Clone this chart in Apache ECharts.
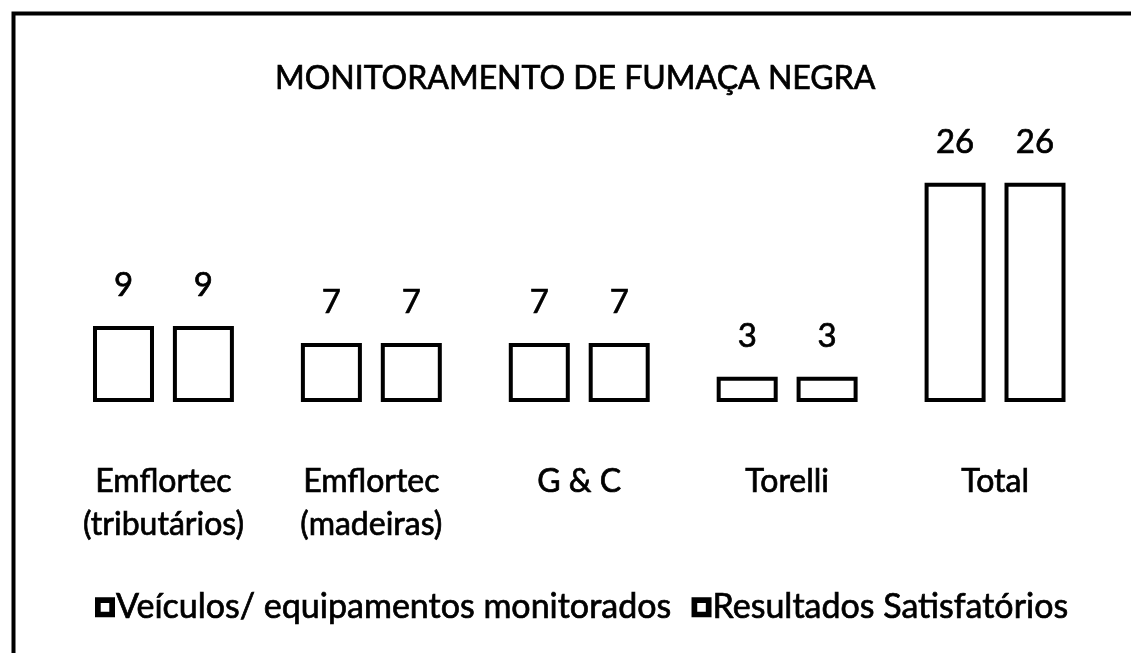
<!DOCTYPE html>
<html>
<head>
<meta charset="utf-8">
<title>Monitoramento de Fumaça Negra</title>
<script src="https://cdn.jsdelivr.net/npm/echarts@6/dist/echarts.min.js"></script>
<style>
    html, body {margin: 0; padding: 0; background: #fff;}
    #chart {width: 1131px; height: 653px;}
</style>
</head>
<body>
<div id="chart"></div>
<script>
const categories = ['Emflortec\n(tributários)', 'Emflortec\n(madeiras)', 'G & C', 'Torelli', 'Total'];
const seriesNames = ['Veículos/ equipamentos monitorados', 'Resultados Satisfatórios'];
const monitorados = [9, 7, 7, 3, 26];
const satisfatorios = [9, 7, 7, 3, 26];

const font = 'Lato';
// the scan makes regular text look heavier, a thin outline imitates that
const ink = {color: '#000', fontFamily: font, fontWeight: 'normal', textBorderColor: '#000', textBorderWidth: 0.7};
const chart = echarts.init(document.getElementById('chart'));

const barStyle = {
    color: '#fff',
    borderColor: '#000',
    borderWidth: 4
};

const makeSeries = (name, data) => ({
    type: 'bar',
    name: name,
    data: data,
    barWidth: 61,
    barGap: '31%',
    itemStyle: barStyle,
    emphasis: {disabled: true},
    label: {
        show: true,
        position: 'top',
        distance: 24,
        ...ink,
        fontSize: 33
    }
});

const option = {
    animation: false,
    backgroundColor: '#fff',
    title: {
        text: 'MONITORAMENTO DE FUMAÇA NEGRA',
        left: 270,
        top: 58,
        textStyle: {...ink, fontSize: 32}
    },
    legend: {
        data: seriesNames,
        top: 585,
        left: 90,
        icon: 'path://M0,0H14V14H0Z M4,4V10H10V4Z',
        itemWidth: 20,
        itemHeight: 20,
        itemGap: 20,
        itemStyle: {color: '#000', borderWidth: 0},
        textStyle: {...ink, fontSize: 34, padding: [0, 0, 0, -4]}
    },
    grid: {
        left: 59.5,
        right: 32,
        top: 149,
        bottom: 251,
        containLabel: false
    },
    xAxis: {
        type: 'category',
        data: categories,
        axisLine: {show: false},
        axisTick: {show: false},
        axisLabel: {
            ...ink,
            fontSize: 32,
            lineHeight: 43,
            margin: 58,
            interval: 0
        }
    },
    yAxis: {
        type: 'value',
        min: 0,
        max: 30,
        show: false,
        splitLine: {show: false}
    },
    graphic: [{
        type: 'rect',
        left: 11,
        top: 11,
        shape: {width: 1300, height: 800},
        style: {fill: null, stroke: '#000', lineWidth: 4},
        silent: true
    }],
    series: [
        makeSeries(seriesNames[0], monitorados),
        makeSeries(seriesNames[1], satisfatorios)
    ]
};

chart.setOption(option);
</script>
</body>
</html>
